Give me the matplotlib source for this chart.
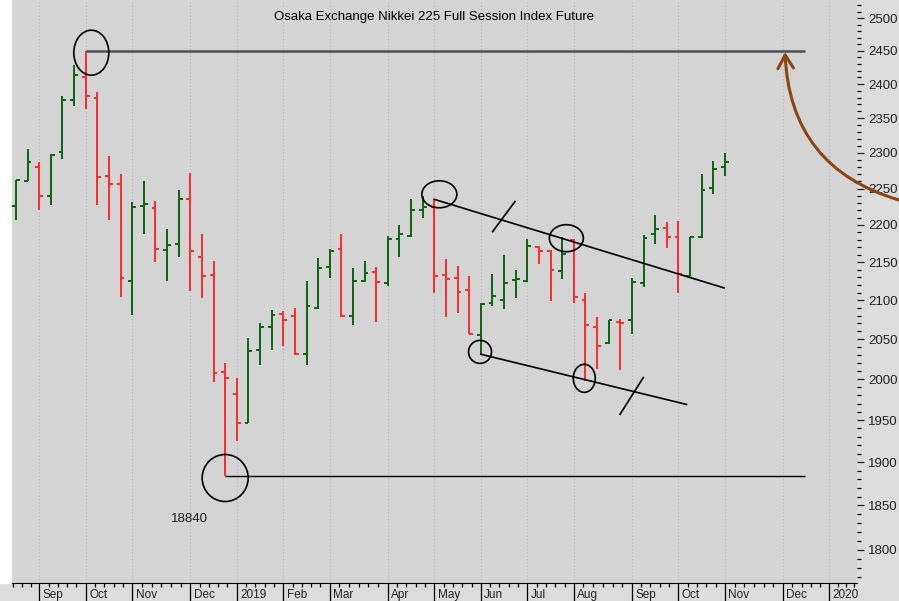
import numpy as np
import matplotlib.pyplot as plt
import matplotlib.transforms as mtransforms
from matplotlib.patches import Ellipse, Rectangle, FancyArrowPatch
from matplotlib.path import Path
from matplotlib.ticker import FixedLocator, NullFormatter

plt.rcParams['font.family'] = ['Liberation Sans', 'DejaVu Sans']

# weekly OHLC, Aug 24 2018 .. Nov 1 2019 (golden week 2019 has no bar)
opens = [22260, 22610, 22795, 22390, 23010, 23770, 24110, 23800, 22680, 22560,
         21250, 22260, 22230, 21660, 21740, 22360, 21565, 21330, 20090, 19820,
         19470, 20360, 20660, 20820, 20790, 20310, 20900, 21430, 21680, 20790,
         21250, 21370, 21220, 21810, 21850, 22210, 22250, 21330, 21290, 21130,
         20550, 20960, 21000, 21270, 21250, 21700, 21650, 21380, 21800, 21000,
         20660, 20450, 20720, 20740, 21220, 21880, 21960, 21840, 21320, 21830,
         22510, 22800]
highs = [22620, 23050, 22870, 22990, 23830, 24280, 24500, 23890, 22960, 22710,
         22320, 22600, 22330, 21940, 22480, 22720, 21880, 21510, 20200, 20020,
         20510, 20710, 20870, 20860, 20900, 21250, 21560, 21680, 21880, 21420,
         21510, 21430, 21850, 21995, 22350, 22390, 22350, 21540, 21450, 21310,
         20960, 21340, 21590, 21390, 21810, 21720, 21660, 21830, 21810, 21090,
         20780, 20750, 20760, 21290, 21860, 22130, 22040, 22050, 21840, 22710,
         22890, 23000]
lows = [22070, 22600, 22210, 22270, 22910, 23670, 23630, 22270, 22070, 21040,
        20810, 21870, 21500, 21250, 21565, 21120, 21030, 19960, 18840, 19250,
        19470, 20170, 20360, 20410, 20300, 20180, 20880, 21290, 20780, 20680,
        21240, 20720, 21190, 21570, 21840, 22100, 21100, 20780, 20840, 20560,
        20310, 20930, 20890, 21030, 21240, 21470, 20990, 21280, 20960, 19980,
        20130, 20440, 20110, 20560, 21170, 21740, 21690, 21090, 21310, 21820,
        22420, 22670]
closes = [22620, 22870, 22390, 22970, 23770, 24130, 23820, 22660, 22560, 21290,
          22250, 22290, 21680, 21730, 22360, 21650, 21310, 20070, 20010, 19460,
          20350, 20660, 20810, 20740, 20310, 20930, 21420, 21650, 20790, 21250,
          21350, 21240, 21810, 21880, 22210, 22250, 21310, 21280, 21110, 20570,
          20950, 21060, 21220, 21280, 21720, 21650, 21400, 21610, 21045, 20680,
          20420, 20740, 20700, 21240, 21820, 21940, 21840, 21340, 21830, 22480,
          22780, 22870]

# first bar of each month (bar index), including the empty weeks to the right
month_pos = [2, 6, 10, 15, 19, 23, 27, 32, 36, 40, 44, 48, 53, 57, 61, 66, 70]
month_labels = ['Sep', 'Oct', 'Nov', 'Dec', '2019', 'Feb', 'Mar', 'Apr', 'May',
                'Jun', 'Jul', 'Aug', 'Sep', 'Oct', 'Nov', 'Dec', '2020']
y_major = list(range(18000, 25001, 500))
y_minor = list(range(17700, 25301, 100))
# the price scale only shows the first four digits
y_labels = [str(v // 10) for v in y_major]

title = 'Osaka Exchange Nikkei 225 Full Session Index Future'
low_label = '18840'

green = '#0b6410'
red = '#ff2a2a'
bg = '#d4d4d4'

fig = plt.figure(figsize=(8.99, 6.01), dpi=100, facecolor='#dcdcdc')
ax = fig.add_axes([12 / 899, 1 - 583 / 601, (857 - 12) / 899, 583 / 601])
ax.set_facecolor(bg)
ax.set_yscale('log')
ax.set_ylim(17633, 25280)
ax.set_xlim(-0.344, 72.37)

# white strip on the far left
fig.add_artist(Rectangle((0, 1 - 583 / 601), 12 / 899, 583 / 601,
                         transform=fig.transFigure, color='white', zorder=0))

# OHLC bars
x = np.arange(len(opens))
cols = [green if c >= o else red for o, c in zip(opens, closes)]
ax.vlines(x, lows, highs, colors=cols, lw=1.4, zorder=3)
ax.hlines(opens, x - 0.33, x, colors=cols, lw=1.4, zorder=3)
ax.hlines(closes, x, x + 0.33, colors=cols, lw=1.4, zorder=3)

# month grid lines
for p in month_pos:
    ax.axvline(p, color='#b9b9b9', lw=0.8, ls=(0, (1, 2)), zorder=1)

# axes / ticks
for s in ['top', 'left', 'right']:
    ax.spines[s].set_visible(False)
ax.spines['bottom'].set_color('black')

ax.yaxis.tick_right()
ax.yaxis.set_major_locator(FixedLocator(y_major))
ax.yaxis.set_minor_locator(FixedLocator(y_minor))
ax.set_yticklabels(y_labels)
ax.yaxis.set_minor_formatter(NullFormatter())
ax.tick_params(axis='y', which='major', length=5, width=0.9, pad=3, labelsize=9.5, colors='#202020')
ax.tick_params(axis='y', which='minor', length=3, width=0.9)

ax.set_xticks(month_pos)
ax.set_xticklabels([])
minor_x = []
bounds = [-1.0] + month_pos + [73.5]
for a, b in zip(bounds[:-1], bounds[1:]):
    n = max(int(round(b - a)), 1)
    for k in range(1, n + 1):
        t = a + k * (b - a) / (n + 1)
        if -0.3 < t < 72.3:
            minor_x.append(t)
ax.xaxis.set_minor_locator(FixedLocator(minor_x))
ax.tick_params(axis='x', which='major', length=14, width=0.9)
ax.tick_params(axis='x', which='minor', length=3, width=0.9)
for p, lab in zip(month_pos, month_labels):
    ax.annotate(lab, xy=(p, 0), xycoords=('data', 'axes fraction'),
                xytext=(2.5, -4.0), textcoords='offset points',
                ha='left', va='top', fontsize=8.5, color='#202020',
                annotation_clip=False)

# title
ax.text(0.5, 1 - 17 / 583, title, transform=ax.transAxes, ha='center', va='center',
        fontsize=9.5, color='black')

# support / resistance lines
ax.hlines(highs[6], 6, 67.9, color='#505050', lw=1.8, zorder=4)
ax.hlines(lows[18], 18, 67.9, color='black', lw=1.0, zorder=4)
ax.plot([36, 60.93], [highs[36], 21160], color='black', lw=1.2, zorder=4)
ax.plot([40, 57.7], [lows[40], 19690], color='black', lw=1.2, zorder=4)
ax.plot([41.02, 42.94], [21910, 22320], color='black', lw=1.2, zorder=4)
ax.plot([51.98, 53.98], [19570, 20020], color='black', lw=1.2, zorder=4)
ax.text(14.9, 18340, low_label, ha='center', va='center', fontsize=9.5, color='#202020')


def ring(xi, price, w, h):
    px, py = ax.transData.transform((xi, price))
    e = Ellipse((px, py), w, h, fill=False, ec='black', lw=1.2,
                transform=mtransforms.IdentityTransform(), zorder=5)
    ax.add_patch(e)


ring(6.48, 24470, 35, 45)
ring(18.0, 18815, 46, 47)
ring(36.43, 22420, 35, 27)
ring(39.93, 20340, 23, 23)
ring(47.36, 21820, 34, 27)
ring(48.9, 20010, 22, 28)

# brown curved arrow (figure fraction coords)
p0 = (1.0, 1 - 200 / 601)
p1 = (790 / 899, 1 - 168 / 601)
p2 = (785 / 899, 1 - 52 / 601)
arrow = FancyArrowPatch(path=Path([p0, p1, p2], [Path.MOVETO, Path.CURVE3, Path.CURVE3]),
                        arrowstyle='->,head_length=6,head_width=3.5',
                        color='#8b4513', lw=2.2, transform=fig.transFigure,
                        mutation_scale=1.6)
fig.add_artist(arrow)

fig.savefig('out.png', dpi=100, facecolor=fig.get_facecolor())
